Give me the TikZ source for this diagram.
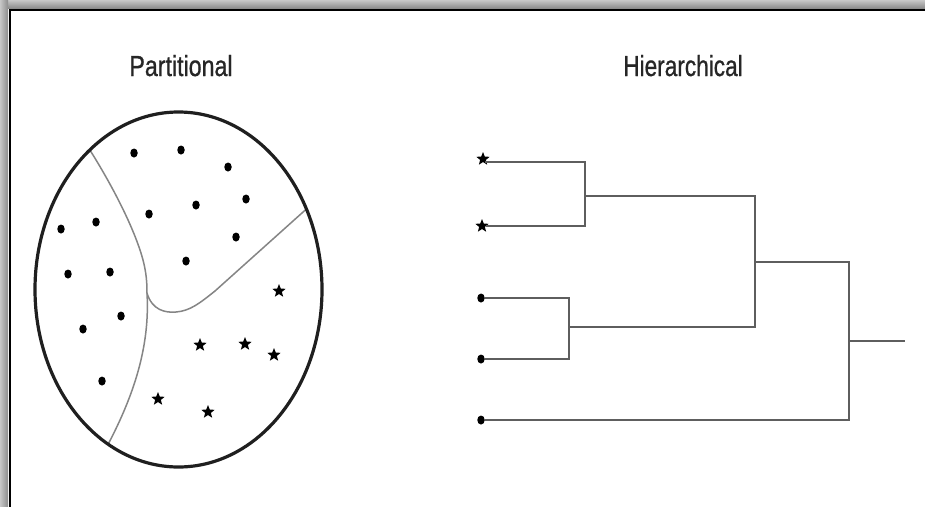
\documentclass[tikz,border=0pt]{standalone}
\usepackage{fontspec}
\setmainfont{Liberation Sans}
\usetikzlibrary{shapes.geometric}
\definecolor{txt}{HTML}{262626}
\definecolor{branchc}{HTML}{5E5E5E}
\definecolor{partc}{HTML}{858585}
\tikzset{
  title/.style={font=\fontsize{29}{31}\selectfont\addfontfeature{FakeBold=0.9}, text=txt, inner sep=0, anchor=base},
  dotpt/.style={ellipse, fill=black, draw=none, inner sep=0, minimum width=7.5, minimum height=9},
  starpt/.style={star, star points=5, star point ratio=2.3, fill=black, draw=none, inner sep=0, minimum size=14},
  branch/.style={draw=branchc, line width=2},
  partline/.style={draw=partc, line width=1.5},
  outline/.style={draw=black!88, line width=3.2},
}
\begin{document}
\begin{tikzpicture}[x=1pt,y=-1pt]
\useasboundingbox (0,0) rectangle (925,506);
% frame shadow
\shade[top color=black!22, bottom color=black!45] (0,0) rectangle (930,8);
\shade[left color=black!22, right color=black!45] (0,0) rectangle (8,510);
\fill[white] (9,9) rectangle (930,510);
\draw[black, line width=2] (9.5,510) -- (9.5,9.5) -- (930,9.5);

% titles
\node[title] (tp) at (181,76) {\scalebox{0.8}[1]{Partitional}};
\node[title] (th) at (683,76) {\scalebox{0.78}[1]{Hierarchical}};

% partitional
\begin{scope}
\clip (178.5,289.5) ellipse [x radius=143.5, y radius=177.5];
\draw[partline] (86,144) .. controls (92,153) and (125,205) .. (140,250)
   .. controls (146,268) and (147,280) .. (147,293)
   .. controls (150,345) and (135,395) .. (104,452);
\draw[partline] (147,293) .. controls (152,310) and (165,313) .. (176,312)
   .. controls (190,311) and (200,303) .. (215,291) -- (312,204);
\end{scope}
\draw[outline] (178.5,289.5) ellipse [x radius=143.5, y radius=177.5];

\foreach \n/\x/\y in {d1/134/153, d2/181/150, d3/228/167, d4/196/205, d5/246/199,
  d6/149/214, d7/236/237, d8/186/261, d9/61/229, d10/96/222, d11/68/274,
  d12/110/272, d13/121/316, d14/83/329, d15/102/381}
  \node[dotpt] (\n) at (\x,\y) {};
\foreach \n/\x/\y in {s1/279/291, s2/200/345, s3/245/344, s4/274/355, s5/158/399, s6/208/412}
  \node[starpt] (\n) at (\x,\y) {};

% hierarchical
\node[starpt] (l1) at (483,159) {};
\node[starpt] (l2) at (482,226) {};
\node[dotpt] (l3) at (481,298) {};
\node[dotpt] (l4) at (481,359) {};
\node[dotpt] (l5) at (481,420) {};
\coordinate (j1) at (585,196);
\coordinate (j2) at (569,327);
\coordinate (j3) at (755,262);
\coordinate (j4) at (849,341);
\coordinate (r) at (905,341);
\draw[branch] (l1.center) ++(2,3) -| (j1) |- (l2);
\draw[branch] (l3) -| (j2) |- (l4);
\draw[branch] (j1) -| (j3) |- (j2);
\draw[branch] (j3) -| (j4) |- (l5);
\draw[branch] (j4) -- (r);
\end{tikzpicture}
\end{document}
